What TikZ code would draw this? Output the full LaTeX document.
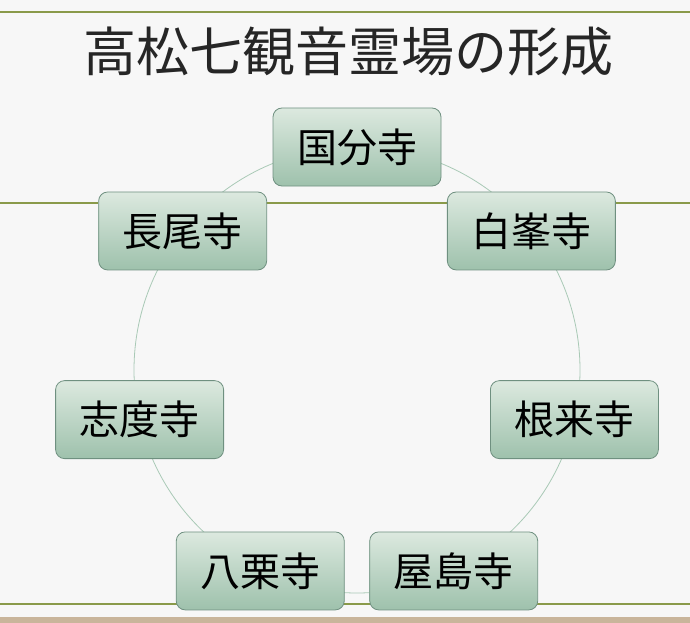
\documentclass[tikz,border=0pt]{standalone}
\usepackage{fontspec}
\newfontfamily\jp{Noto Sans CJK JP}
\usepackage{xcolor}
\usepackage{tikz}
\usetikzlibrary{positioning,arrows.meta,fit,backgrounds}
\definecolor{rule}{HTML}{8A9A4A}
\definecolor{band}{HTML}{C9B59B}
\definecolor{ring}{HTML}{A9C9B6}
\definecolor{boxtop}{HTML}{DCE9DF}
\definecolor{boxbot}{HTML}{9EC1AC}
\definecolor{boxline}{HTML}{6F9080}

\begin{document}
\begin{tikzpicture}[
  x=1pt, y=-1pt,
  temple/.style={draw=boxline, line width=0.8pt, rounded corners=9pt, top color=boxtop, bottom color=boxbot,
    minimum width=168pt, minimum height=78pt, inner sep=0pt, font=\jp\fontsize{40}{44}\selectfont},
  hline/.style={draw=rule, line width=2pt},
  font=\jp
]
  % background and frame lines
  \fill[black!3] (0,0) rectangle (690,623);
  \useasboundingbox (0,0) rectangle (690,623);
  \draw[hline] (0,12.5) -- (690,12.5);
  \draw[hline] (0,203) -- (690,203);
  \draw[hline] (0,604) -- (690,604);
  \fill[band] (0,617) rectangle (690,623);

  \node[font=\jp\fontsize{53}{58}\selectfont, text=black!85] (title) at (348,52) {高松七観音霊場の形成};

  % ring of temples
  \coordinate (c) at (357,370);
  \draw[ring, line width=0.8pt] (c) circle (223);
  \foreach \name/\ang/\txt in {kokubun/90/国分寺, shiramine/38.57/白峯寺, negoro/-12.86/根来寺,
      yashima/-64.29/屋島寺, yakuri/-115.71/八栗寺, shido/-167.14/志度寺, nagao/-218.57/長尾寺}
    \node[temple] (\name) at ({357+223*cos(\ang)},{370-223*sin(\ang)}) {\txt};
\end{tikzpicture}
\end{document}
